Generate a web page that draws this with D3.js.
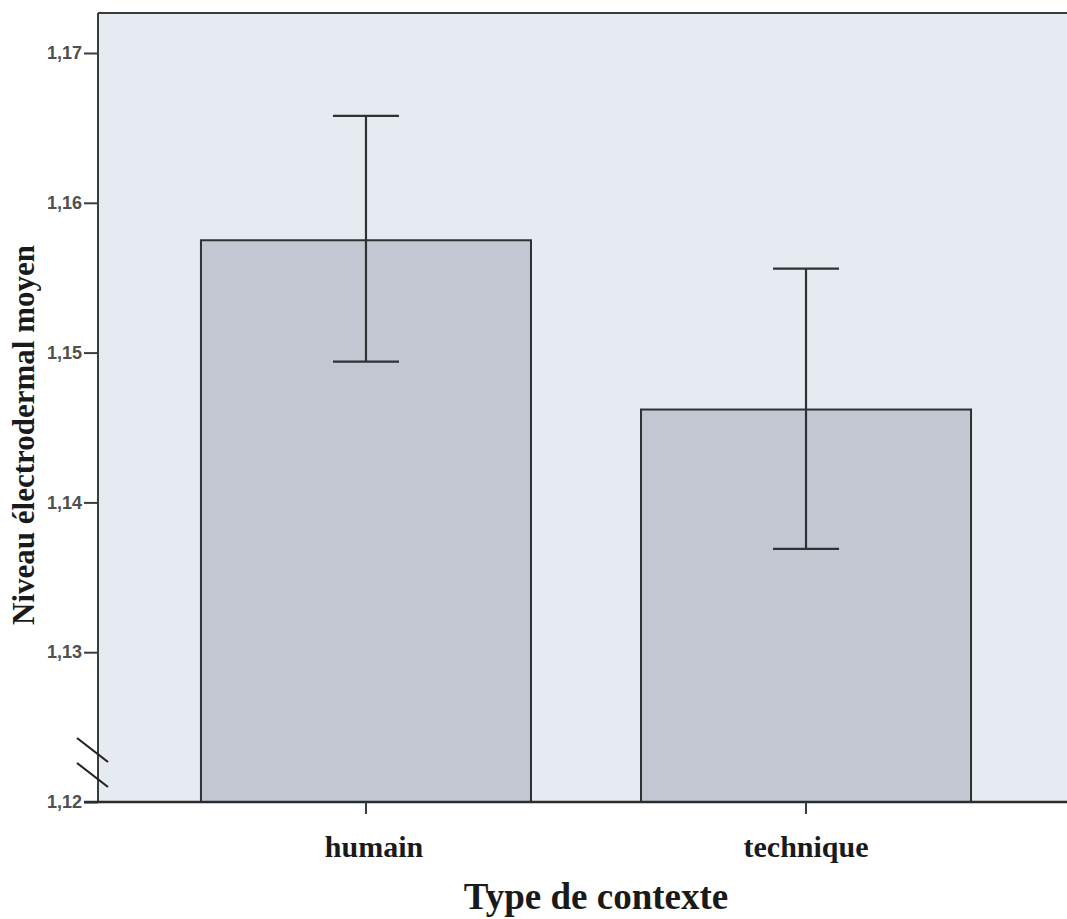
<!DOCTYPE html>
<html>
<head>
<meta charset="utf-8">
<script src="https://cdn.jsdelivr.net/npm/d3@7"></script>
<style>
  html, body { margin: 0; padding: 0; background: #ffffff; }
  svg { display: block; }
</style>
</head>
<body>
<svg id="chart" width="1067" height="919"></svg>
<script>
// ---- data ----
const categories = ["humain", "technique"];
const means = [1.1575, 1.1462];
const ciLow = [1.1494, 1.1369];
const ciHigh = [1.1658, 1.1556];
const yTicks = [1.12, 1.13, 1.14, 1.15, 1.16, 1.17];
const yTickLabels = ["1,12", "1,13", "1,14", "1,15", "1,16", "1,17"];
const xTitle = "Type de contexte";
const yTitle = "Niveau électrodermal moyen";

// ---- layout ----
const plotL = 98, plotT = 13, plotB = 802, plotR = 1067;

const svg = d3.select("#chart");

const y = d3.scaleLinear().domain([1.12, 1.17]).range([plotB, 53]);
const x = d3.scaleBand().domain(categories).range([plotL, 1074])
  .paddingInner(0.25).paddingOuter(0.234);

// plot background
svg.append("rect")
  .attr("x", plotL).attr("y", plotT)
  .attr("width", plotR - plotL).attr("height", plotB - plotT)
  .attr("fill", "#e6eaf1");

// bars
svg.selectAll("rect.bar").data(categories).enter().append("rect")
  .attr("class", "bar")
  .attr("x", d => x(d))
  .attr("y", (d, i) => y(means[i]))
  .attr("width", x.bandwidth())
  .attr("height", (d, i) => plotB - y(means[i]))
  .attr("fill", "#c3c7d2")
  .attr("stroke", "#2e3233")
  .attr("stroke-width", 2);

// error bars
const cap = x.bandwidth() * 0.1;
const eb = svg.append("g").attr("stroke", "#2e3233").attr("stroke-width", 2.2).attr("fill", "none");
categories.forEach((c, i) => {
  const cx = x(c) + x.bandwidth() / 2;
  eb.append("line").attr("x1", cx).attr("x2", cx).attr("y1", y(ciLow[i])).attr("y2", y(ciHigh[i]));
  eb.append("line").attr("x1", cx - cap).attr("x2", cx + cap).attr("y1", y(ciLow[i])).attr("y2", y(ciLow[i]));
  eb.append("line").attr("x1", cx - cap).attr("x2", cx + cap).attr("y1", y(ciHigh[i])).attr("y2", y(ciHigh[i]));
});

// frame: top line
svg.append("line").attr("x1", plotL).attr("x2", plotR).attr("y1", plotT).attr("y2", plotT)
  .attr("stroke", "#3a3d3e").attr("stroke-width", 2);

// y axis
const yAxis = d3.axisLeft(y).tickValues(yTicks)
  .tickFormat((d, i) => yTickLabels[i]).tickSize(14).tickPadding(2);
const gy = svg.append("g").attr("transform", `translate(${plotL},0)`).call(yAxis);
gy.select(".domain").attr("d", `M0,${plotT}V${plotB}`).attr("stroke", "#3a3d3e").attr("stroke-width", 2);
gy.selectAll(".tick line").attr("stroke", "#3a3d3e").attr("stroke-width", 2);
gy.selectAll(".tick text")
  .attr("font-family", "'Liberation Sans', Arial, sans-serif")
  .attr("font-weight", "bold").attr("font-size", 18).attr("fill", "#505050");

// x axis
const xAxis = d3.axisBottom(x).tickSize(12).tickPadding(22);
const gx = svg.append("g").attr("transform", `translate(0,${plotB})`).call(xAxis);
gx.select(".domain").attr("d", `M${plotL - 14},0H${plotR}`).attr("stroke", "#2a2d2e").attr("stroke-width", 2.5);
gx.selectAll(".tick line").attr("stroke", "#3a3d3e").attr("stroke-width", 2);
gx.selectAll(".tick text")
  .attr("font-family", "'Liberation Serif', 'Times New Roman', serif")
  .attr("font-weight", "bold").attr("font-size", 30).attr("fill", "#1a1a1a")
  .attr("dx", (d, i) => i === 0 ? 8 : 0);

// axis break marks
const brk = svg.append("g").attr("stroke", "#222").attr("stroke-width", 2.2);
[0, 25].forEach(off => {
  brk.append("line").attr("x1", plotL - 21).attr("y1", 738 + off).attr("x2", plotL + 10).attr("y2", 762 + off);
});

// titles
svg.append("text")
  .attr("x", 596).attr("y", 909)
  .attr("text-anchor", "middle")
  .attr("font-family", "'Liberation Serif', 'Times New Roman', serif")
  .attr("font-weight", "bold").attr("font-size", 37).attr("fill", "#1a1a1a")
  .text(xTitle);

svg.append("text")
  .attr("transform", `translate(34,435) rotate(-90)`)
  .attr("text-anchor", "middle")
  .attr("font-family", "'Liberation Serif', 'Times New Roman', serif")
  .attr("font-weight", "bold").attr("font-size", 31).attr("fill", "#1a1a1a")
  .text(yTitle);
</script>
</body>
</html>
